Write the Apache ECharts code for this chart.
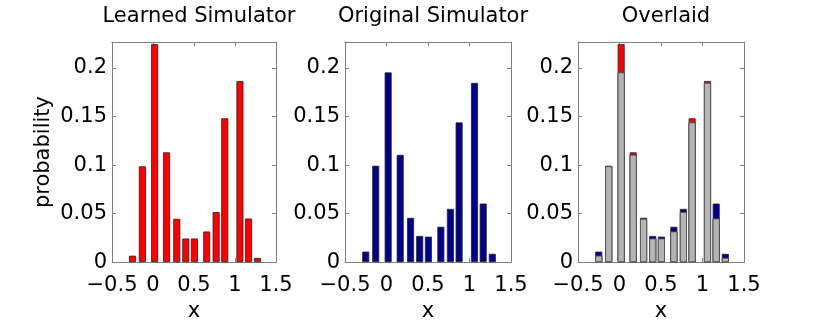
<!DOCTYPE html>
<html>
<head>
<meta charset="utf-8">
<script src="https://cdn.jsdelivr.net/npm/echarts@6/dist/echarts.min.js"></script>
<style>
  html, body { margin: 0; padding: 0; background: #fff; }
  #chart { width: 830px; height: 327px; }
</style>
</head>
<body>
<div id="chart"></div>
<script>
// 数据
var xs = [-0.25, -0.13, 0.02, 0.165, 0.29, 0.40, 0.505, 0.655, 0.77, 0.875, 1.06, 1.165, 1.275];
var learned = [0.0066, 0.0987, 0.2246, 0.1131, 0.0446, 0.0243, 0.0243, 0.0315, 0.0515, 0.1482, 0.1866, 0.0449, 0.0043];
var original = [0.0108, 0.0993, 0.1954, 0.1105, 0.0456, 0.0269, 0.0262, 0.0364, 0.0548, 0.1439, 0.1846, 0.0603, 0.0085];
var titles = ["Learned Simulator", "Original Simulator", "Overlaid"];
var xTicks = [-0.5, 0, 0.5, 1, 1.5];
var yTicks = [0, 0.05, 0.1, 0.15, 0.2];

(function () {
  var myChart = echarts.init(document.getElementById("chart"));
  var font = "DejaVu Sans, sans-serif";
  var axisGray = "#7f7f7f";
  var lefts = [112, 345, 578];
  var widths = [164, 166, 166];

  function pairs(arr) {
    return xs.map(function (x, i) { return [x, arr[i]]; });
  }
  var overlap = learned.map(function (v, i) { return Math.min(v, original[i]); });

  var grid = [], xAxis = [], yAxis = [], title = [];
  lefts.forEach(function (l, i) {
    grid.push({ left: l, width: widths[i], top: 42, height: 231 });
    title.push({
      text: titles[i],
      left: l + widths[i] / 2,
      textAlign: "center",
      top: 1,
      textStyle: { fontFamily: font, fontSize: 21, fontWeight: "normal", color: "#000" }
    });
    // 下方 x 轴
    xAxis.push({
      type: "value", gridIndex: i, min: -0.5, max: 1.5, interval: 0.5,
      name: "x", nameLocation: "middle", nameGap: 38,
      nameTextStyle: { fontFamily: font, fontSize: 21, color: "#000" },
      axisLine: { show: true, onZero: false, lineStyle: { color: axisGray } },
      axisTick: { show: true, inside: true, length: 4, lineStyle: { color: axisGray } },
      axisLabel: {
        fontFamily: font, fontSize: 21, color: "#000", margin: 13,
        formatter: function (v) { return v < 0 ? "\u2212" + Math.abs(v) : String(v); }
      },
      splitLine: { show: false }
    });
    // 上方框线
    xAxis.push({
      type: "value", gridIndex: i, position: "top", min: -0.5, max: 1.5, interval: 0.5,
      axisLine: { show: true, onZero: false, lineStyle: { color: axisGray } },
      axisTick: { show: true, inside: true, length: 4, lineStyle: { color: axisGray } },
      axisLabel: { show: false },
      splitLine: { show: false }
    });
    yAxis.push({
      type: "value", gridIndex: i, min: 0, max: 0.2268, interval: 0.05,
      name: i === 0 ? "probability" : "", nameLocation: "middle", nameGap: 58,
      nameTextStyle: { fontFamily: font, fontSize: 21, color: "#000" },
      axisLine: { show: true, onZero: false, lineStyle: { color: axisGray } },
      axisTick: { show: true, inside: true, length: 4, lineStyle: { color: axisGray } },
      axisLabel: { fontFamily: font, fontSize: 21, color: "#000", margin: 5, showMaxLabel: false },
      splitLine: { show: false }
    });
    yAxis.push({
      type: "value", gridIndex: i, position: "right", min: 0, max: 0.2268, interval: 0.05,
      axisLine: { show: true, onZero: false, lineStyle: { color: axisGray } },
      axisTick: { show: true, inside: true, length: 4, lineStyle: { color: axisGray } },
      axisLabel: { show: false },
      splitLine: { show: false }
    });
  });

  function bar(name, arr, gi, color, extra) {
    return Object.assign({
      name: name, type: "bar",
      xAxisIndex: gi * 2, yAxisIndex: gi * 2,
      data: pairs(arr),
      barWidth: 7,
      barGap: "-100%",
      itemStyle: { color: color, borderColor: "#222", borderWidth: 0.8 }
    }, extra || {});
  }

  var option = {
    animation: false,
    title: title,
    grid: grid,
    xAxis: xAxis,
    yAxis: yAxis,
    series: [
      bar("Learned", learned, 0, "#ff0000"),
      bar("Original", original, 1, "#00008f"),
      bar("Learned", learned, 2, "#ff0000"),
      bar("Original", original, 2, "#00008f"),
      bar("Overlap", overlap, 2, "#b4b4b4", { itemStyle: { color: "#b4b4b4", borderColor: "#555", borderWidth: 0.8 } })
    ]
  };
  myChart.setOption(option);
})();
</script>
</body>
</html>
